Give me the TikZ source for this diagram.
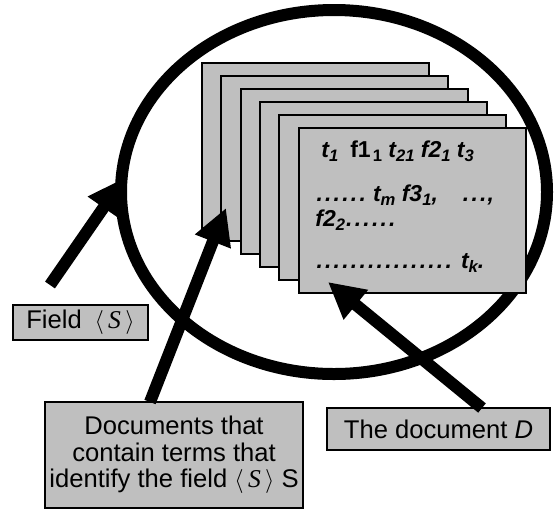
\documentclass[tikz,border=0pt]{standalone}
\usepackage{fontspec}
\setmainfont{Liberation Sans}
\newfontfamily\timesfont{Liberation Serif}
\usetikzlibrary{arrows.meta}

\definecolor{paper}{gray}{0.75}

% the field sign, a row of evenly spaced dots and a lowered index
\newcommand{\field}{$\bigl\langle$\,{\timesfont\itshape S}\,$\bigr\rangle$}
\newcommand{\leaderdots}[1]{\xleaders\hbox to 4.3pt{\hss.\hss}\hskip\dimexpr 4.3pt*#1\relax\kern0pt}
\newcommand{\idx}[1]{\raisebox{-2.3pt}{\fontsize{8.3}{8}\selectfont #1}}

\begin{document}
\begin{tikzpicture}
  [x=0.5pt, y=-0.5pt,
   sheet/.style={draw=black, line width=1pt, fill=paper, inner sep=0pt,
     minimum width=113.5pt, minimum height=82.5pt},
   box/.style={draw=black, line width=1pt, fill=paper, inner sep=0pt,
     align=center, font=\fontsize{12.8}{13.2}\selectfont},
   term/.style={anchor=base west, inner sep=0pt,
     font=\fontsize{11.5}{12}\selectfont\bfseries\itshape},
   pointer/.style={line width=6pt, -{Triangle[length=18pt,width=18pt]}}]

\useasboundingbox (0,0) rectangle (555,510);

% the field
\draw [line width=6pt] (334,192) ellipse [x radius=213, y radius=182];

% stack of documents, back to front
\node [sheet] (sheet1) at (315.5,145.5) {};
\node [sheet] (sheet2) at (334.8,158.5) {};
\node [sheet] (sheet3) at (354.1,171.5) {};
\node [sheet] (sheet4) at (373.4,184.5) {};
\node [sheet] (sheet5) at (392.7,197.5) {};
\node [sheet] (sheet6) at (412,210.5) {};

\node [term] (row1) at (321,157)
  {t\idx{1}\hskip 6pt{\upshape f1\hskip 1pt\idx{1}} t\idx{21} f2\idx{1} t\idx{3}};
\node [term] (row2) at (315,201)
  {\leaderdots{6}\hskip 3pt t\idx{m} f3\idx{1},\hskip 12pt\leaderdots{3},};
\node [term] (row3) at (315,226) {f2\idx{2}\leaderdots{6}};
\node [term] (row4) at (315,268) {\leaderdots{16}\hskip 4pt t\idx{k}.};

% labels
\node [box, minimum width=67.5pt, minimum height=17.5pt] (fieldbox) at (80.5,322.5)
  {Field\enspace\field};
\node [box, minimum width=129pt, minimum height=53pt] (docsbox) at (174,455)
  {Documents that\\contain terms that\\identify the field \field\ S};
\node [box, minimum width=111.5pt, minimum height=21pt] (docbox) at (438.5,429)
  {The document \textit{D}};

\coordinate (fieldtail) at (50,285);
\coordinate (fieldtip) at (124,178);
\coordinate (docstail) at (150,402);
\coordinate (docstip) at (226,208);
\coordinate (doctail) at (482,408);
\coordinate (doctip) at (328,282);

\draw [pointer] (fieldtail) -- (fieldtip);
\draw [pointer] (docstail) -- (docstip);
\draw [pointer] (doctail) -- (doctip);

\end{tikzpicture}
\end{document}
